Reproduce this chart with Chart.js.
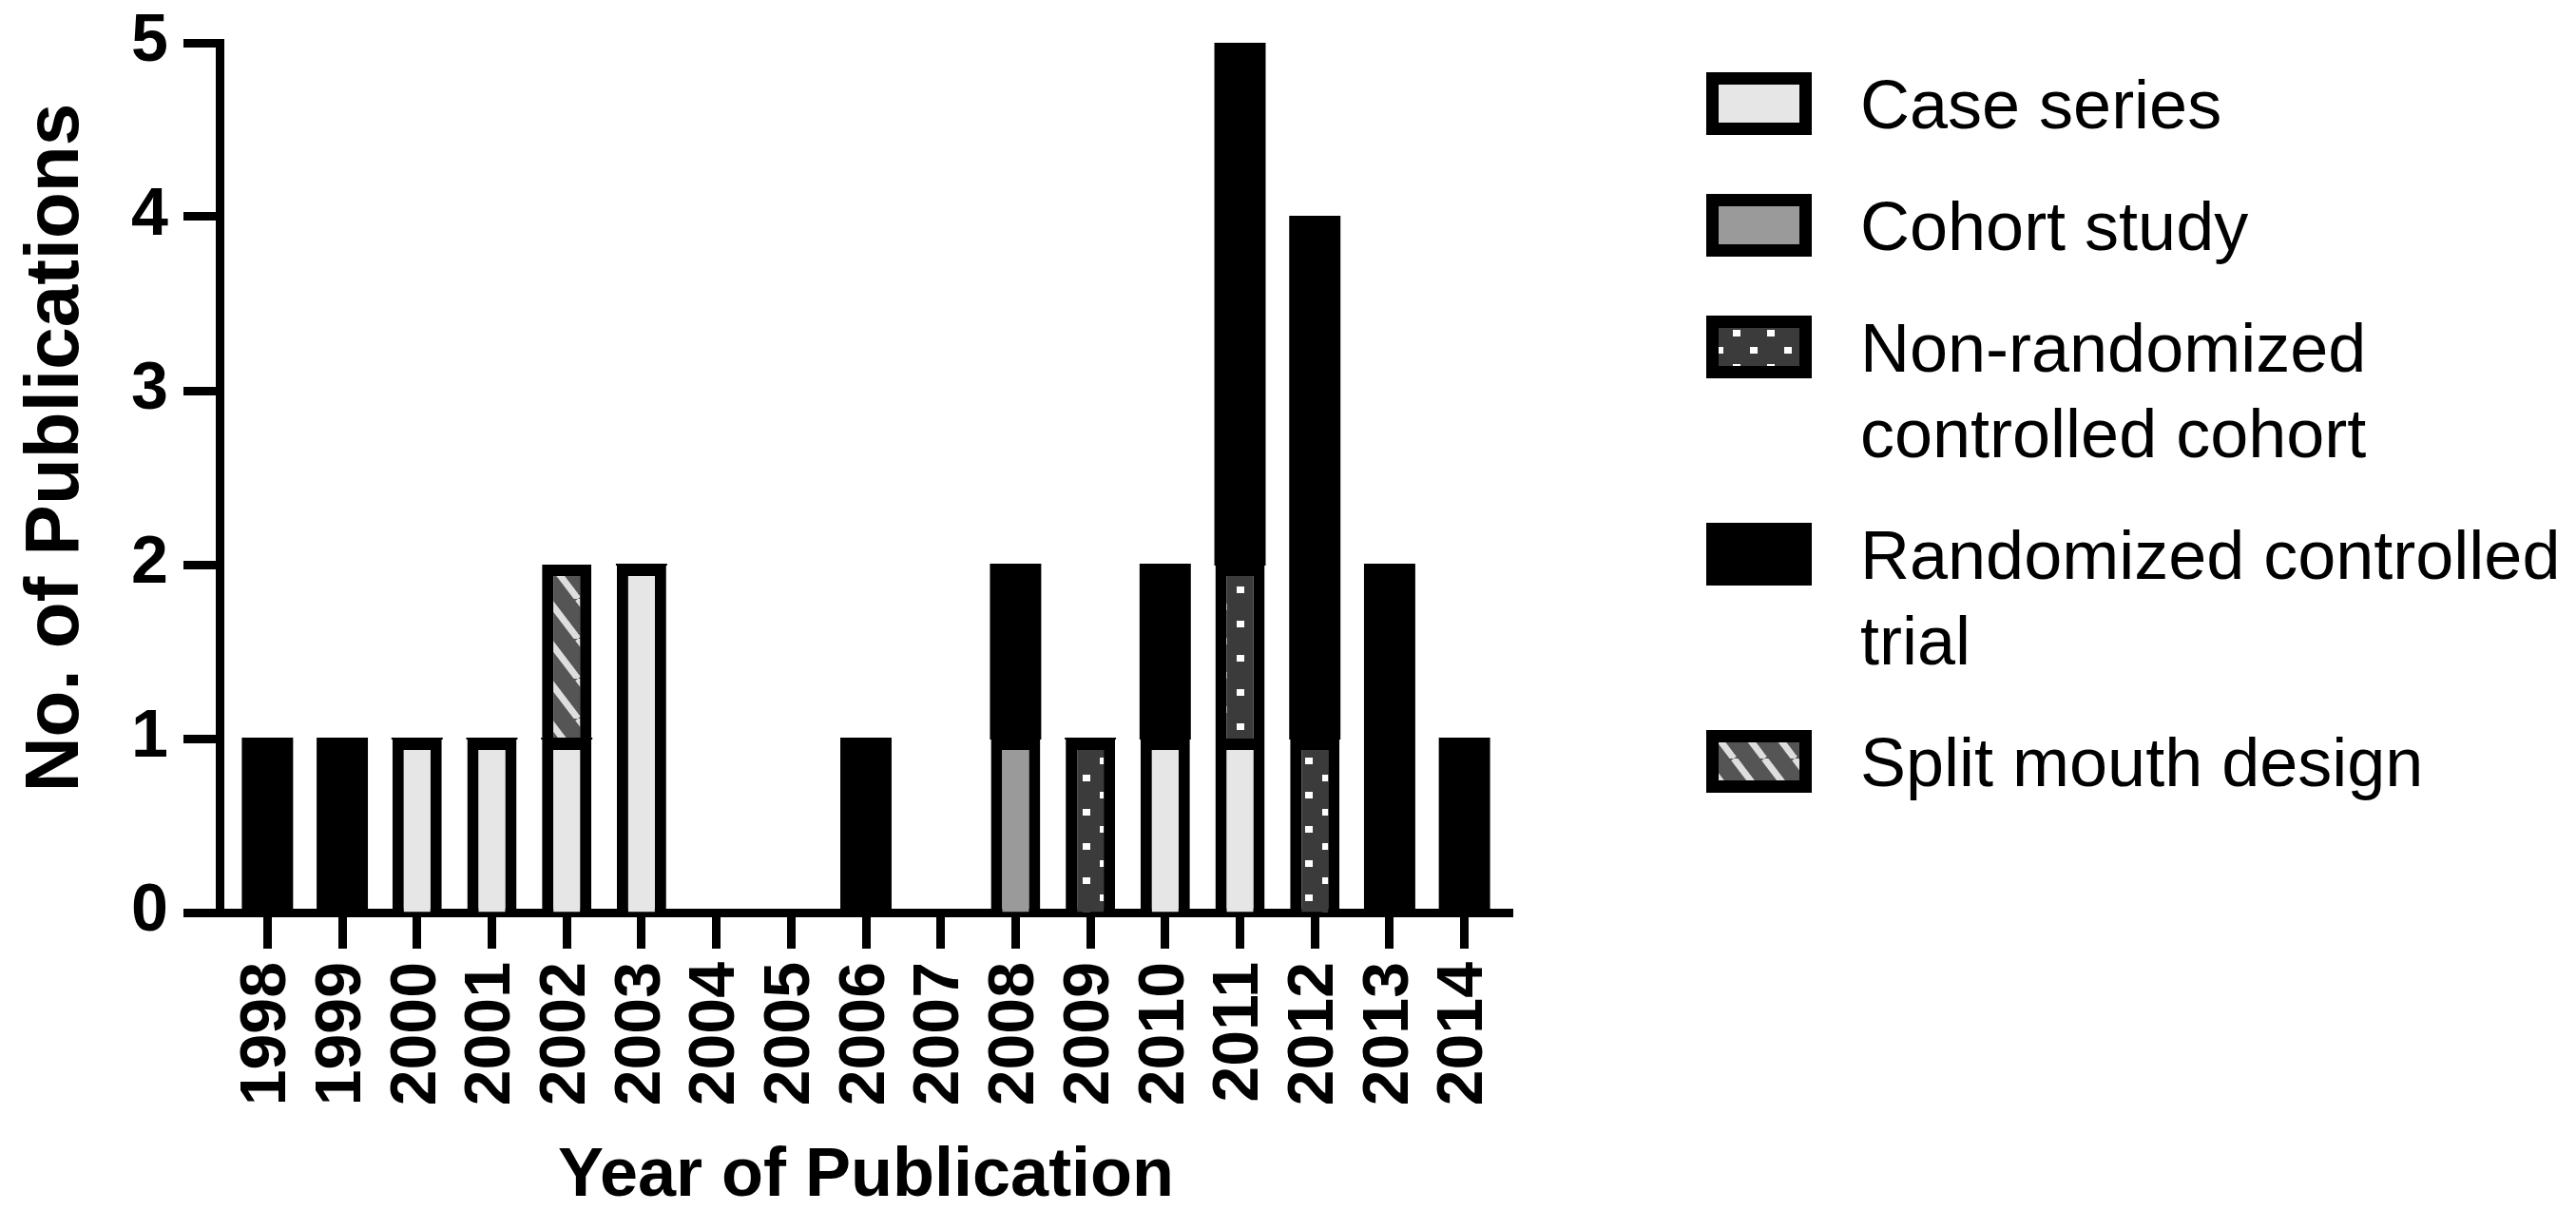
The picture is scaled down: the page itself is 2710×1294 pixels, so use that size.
<!DOCTYPE html>
<html lang="en">
<head>
    <meta charset="UTF-8">
    <title>Publications by Year and Study Design</title>
    <script src="https://cdn.jsdelivr.net/npm/chart.js"></script>
    <style>
        body { margin: 0; background: #fff; }
        #wrap { width: 2710px; height: 1294px; }
    </style>
</head>
<body>
    <div id="wrap"><canvas id="pubChart"></canvas></div>

    <script>
        // data
        const years = ['1998','1999','2000','2001','2002','2003','2004','2005','2006','2007','2008','2009','2010','2011','2012','2013','2014'];
        const seriesNames = ['Case series', 'Cohort study', 'Non-randomized controlled cohort', 'Randomized controlled trial', 'Split mouth design'];
        const caseSeries    = [0, 0, 1, 1, 1, 2, 0, 0, 0, 0, 0, 0, 1, 1, 0, 0, 0];
        const cohortStudy   = [0, 0, 0, 0, 0, 0, 0, 0, 0, 0, 1, 0, 0, 0, 0, 0, 0];
        const nonRandomized = [0, 0, 0, 0, 0, 0, 0, 0, 0, 0, 0, 1, 0, 1, 1, 0, 0];
        const randomized    = [1, 1, 0, 0, 0, 0, 0, 0, 1, 0, 1, 0, 1, 3, 3, 2, 1];
        const splitMouth    = [0, 0, 0, 0, 1, 0, 0, 0, 0, 0, 0, 0, 0, 0, 0, 0, 0];
        const yTicks = [0, 1, 2, 3, 4, 5];
        const xTitle = 'Year of Publication';
        const yTitle = 'No. of Publications';

        const FONT = '"Liberation Sans", Arial, Helvetica, sans-serif';

        // fill patterns
        function dotPattern() {
            const c = document.createElement('canvas');
            c.width = 36; c.height = 36;
            const g = c.getContext('2d');
            g.fillStyle = '#3b3b3b';
            g.fillRect(0, 0, 36, 36);
            g.fillStyle = '#ffffff';
            g.fillRect(5, 5, 8, 7);
            g.fillRect(23, 23, 8, 7);
            return g.createPattern(c, 'repeat');
        }

        function stripePattern() {
            const w = 32, h = 42;
            const c = document.createElement('canvas');
            c.width = w; c.height = h;
            const g = c.getContext('2d');
            g.fillStyle = '#555555';
            g.fillRect(0, 0, w, h);
            g.strokeStyle = '#dedede';
            g.lineWidth = 7;
            for (let k = -1; k <= 1; k++) {
                g.beginPath();
                g.moveTo(k * w, 0);
                g.lineTo(k * w + w, h);
                g.stroke();
            }
            return g.createPattern(c, 'repeat');
        }

        const fills = ['#e6e6e6', '#9a9a9a', dotPattern(), '#000000', stripePattern()];
        const values = [caseSeries, cohortStudy, nonRandomized, randomized, splitMouth];

        const datasets = seriesNames.map((name, i) => {
            const solid = fills[i] === '#000000';
            return {
                label: name,
                data: values[i],
                backgroundColor: fills[i],
                borderColor: '#000',
                // solid black segments need no outline; inflate a bit so no seam shows
                borderWidth: solid ? 0 : 12,
                borderSkipped: 'start',
                inflateAmount: solid ? 1 : 0,
                barPercentage: 0.66,
                categoryPercentage: 1.0
            };
        });

        function wrapText(ctx, text, maxW) {
            const words = text.split(' ');
            const lines = [];
            let cur = '';
            words.forEach(w => {
                const test = cur ? cur + ' ' + w : w;
                if (cur && ctx.measureText(test).width > maxW) {
                    lines.push(cur);
                    cur = w;
                } else {
                    cur = test;
                }
            });
            if (cur) lines.push(cur);
            return lines;
        }

        // legend on the right, with wrapped labels like the original
        const sideLegend = {
            id: 'sideLegend',
            afterDraw(chart) {
                const ctx = chart.ctx;
                const boxX = chart.chartArea.right + 204;
                const textX = boxX + 162;
                ctx.save();
                ctx.font = '72px ' + FONT;
                ctx.textBaseline = 'alphabetic';
                ctx.textAlign = 'left';
                let y = 109;
                chart.data.datasets.forEach(ds => {
                    ctx.fillStyle = '#000';
                    ctx.fillRect(boxX, y - 33, 111, 66);
                    ctx.fillStyle = ds.backgroundColor;
                    ctx.fillRect(boxX + 13, y - 20, 85, 40);
                    const lines = wrapText(ctx, ds.label, 745);
                    ctx.fillStyle = '#000';
                    lines.forEach((ln, i) => ctx.fillText(ln, textX, y + 26 + i * 90));
                    y += 128 + 90 * (lines.length - 1);
                });
                ctx.restore();
            }
        };

        // y title sits a little above the axis middle in the original
        const yAxisTitle = {
            id: 'yAxisTitle',
            afterDraw(chart) {
                const ctx = chart.ctx;
                ctx.save();
                ctx.translate(82, 471);
                ctx.rotate(-Math.PI / 2);
                ctx.font = 'bold 80px ' + FONT;
                ctx.textAlign = 'center';
                ctx.textBaseline = 'alphabetic';
                ctx.fillStyle = '#000';
                ctx.fillText(yTitle, 0, 0);
                ctx.restore();
            }
        };

        const ctx = document.getElementById('pubChart').getContext('2d');
        new Chart(ctx, {
            type: 'bar',
            data: { labels: years, datasets },
            plugins: [sideLegend, yAxisTitle],
            options: {
                responsive: true,
                maintainAspectRatio: false,
                animation: false,
                layout: { padding: { top: 45, right: 1119, left: 0, bottom: 0 } },
                plugins: { legend: { display: false }, tooltip: { enabled: false } },
                scales: {
                    x: {
                        stacked: true,
                        offset: true,
                        z: 1,
                        grid: { display: true, drawOnChartArea: false, drawTicks: true, offset: false,
                                tickLength: 38, tickWidth: 9, tickColor: '#000' },
                        border: { display: true, width: 9, color: '#000' },
                        ticks: { color: '#000', font: { family: FONT, size: 68, weight: 'bold' },
                                 minRotation: 90, maxRotation: 90, padding: 14, autoSkip: false },
                        title: { display: true, text: xTitle, color: '#000',
                                 font: { family: FONT, size: 72, weight: 'bold' }, padding: { top: 0, bottom: 13 } },
                        afterBuildTicks(scale) {
                            // GraphPad leaves a bit more room at both ends than a plain category offset
                            scale._startValue = -0.64;
                            scale._valueRange = years.length - 1 + 1.28;
                        },
                        afterFit(scale) { scale.height = 1294 - 960; }
                    },
                    y: {
                        stacked: true,
                        min: 0,
                        max: 5,
                        afterBuildTicks(scale) { scale.ticks = yTicks.map(v => ({ value: v })); },
                        grid: { display: true, drawOnChartArea: false, drawTicks: true,
                                tickLength: 38, tickWidth: 9, tickColor: '#000' },
                        border: { display: true, width: 9, color: '#000' },
                        ticks: { color: '#000', font: { family: FONT, size: 70, weight: 'bold', lineHeight: 0.8 }, padding: 16 },
                        title: { display: false },
                        afterFit(scale) { scale.width = 231; }
                    }
                }
            }
        });
    </script>
</body>
</html>
